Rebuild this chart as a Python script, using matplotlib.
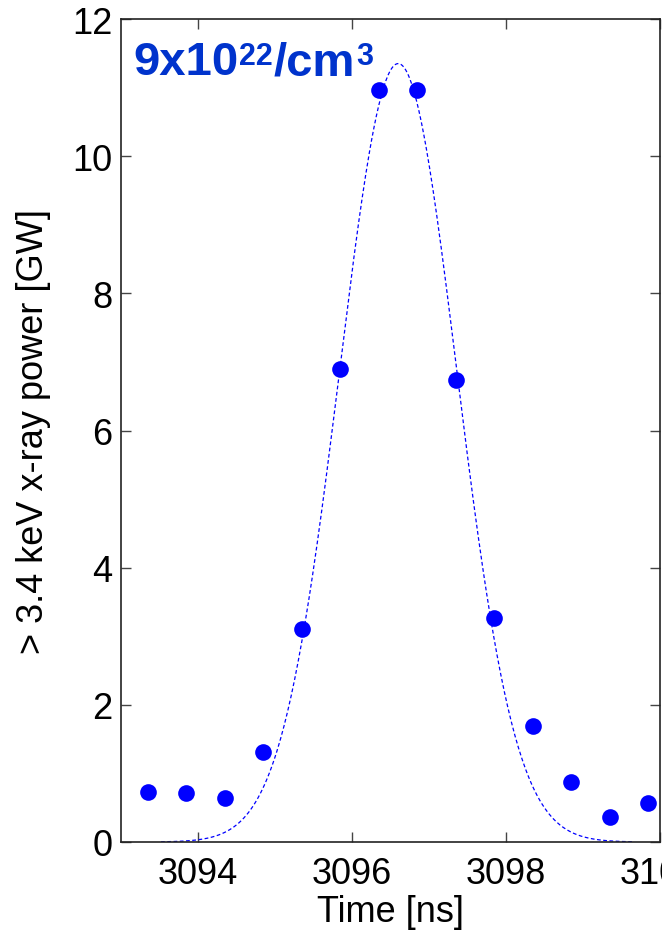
import numpy as np
import matplotlib
matplotlib.use("Agg")
import matplotlib.pyplot as plt

plt.rcParams['font.family'] = ['Liberation Sans', 'DejaVu Sans']

# measured points (time in ns, power in GW)
time_ns = [3093.35, 3093.85, 3094.35, 3094.85, 3095.35, 3095.85, 3096.35,
           3096.85, 3097.35, 3097.85, 3098.35, 3098.85, 3099.35, 3099.85]
power_gw = [0.73, 0.72, 0.64, 1.31, 3.10, 6.90, 10.96,
            10.96, 6.74, 3.26, 1.69, 0.87, 0.36, 0.57]

# gaussian fit parameters
fit_peak = 11.35
fit_center = 3096.6
fit_sigma = 0.76
fit_range = (3093.52, 3099.65)

x_ticks = [3094, 3096, 3098, 3100]
y_ticks = [0, 2, 4, 6, 8, 10, 12]

W, H = 662, 937
fig = plt.figure(figsize=(W / 100, H / 100), dpi=100)
ax = fig.add_axes([121 / W, 94 / H, 539 / W, 823 / H])

t_fit = np.linspace(fit_range[0], fit_range[1], 400)
p_fit = fit_peak * np.exp(-(t_fit - fit_center) ** 2 / (2 * fit_sigma ** 2))
ax.plot(t_fit, p_fit, color='#0000ff', lw=0.9, linestyle=(0, (3, 2)))
ax.plot(time_ns, power_gw, 'o', color='#0000ff', markersize=12,
        markeredgewidth=0)

ax.set_xlim(3093, 3100)
ax.set_ylim(0, 12)
ax.set_xticks(x_ticks)
ax.set_yticks(y_ticks)
ax.set_xticklabels([str(v) for v in x_ticks])
ax.tick_params(direction='in', length=7, width=1, color='#444444',
               labelsize=26, top=True, right=True, pad=6)
ax.tick_params(axis='x', pad=10)
for s in ax.spines.values():
    s.set_linewidth(1.2)
    s.set_color('#222222')

ax.set_xlabel('Time [ns]', fontsize=26, labelpad=2)
ax.set_ylabel('> 3.4 keV x-ray power [GW]', fontsize=26, labelpad=15)

# density label built from pieces so the exponents stay small
pieces = [('9x10', 34, 0), ('22', 22, 10), ('/cm', 34, 0), ('3', 22, 10)]
x_px = 133
base_px = 75
fig.canvas.draw()
r = fig.canvas.get_renderer()
for txt, size, rise in pieces:
    t = fig.text(x_px / W, 1 - (base_px - rise) / H, txt, fontsize=size,
                 fontweight='bold', color='#0033cc', ha='left', va='baseline')
    x_px = t.get_window_extent(renderer=r).x1 + 1

fig.savefig('out.png', dpi=100)
